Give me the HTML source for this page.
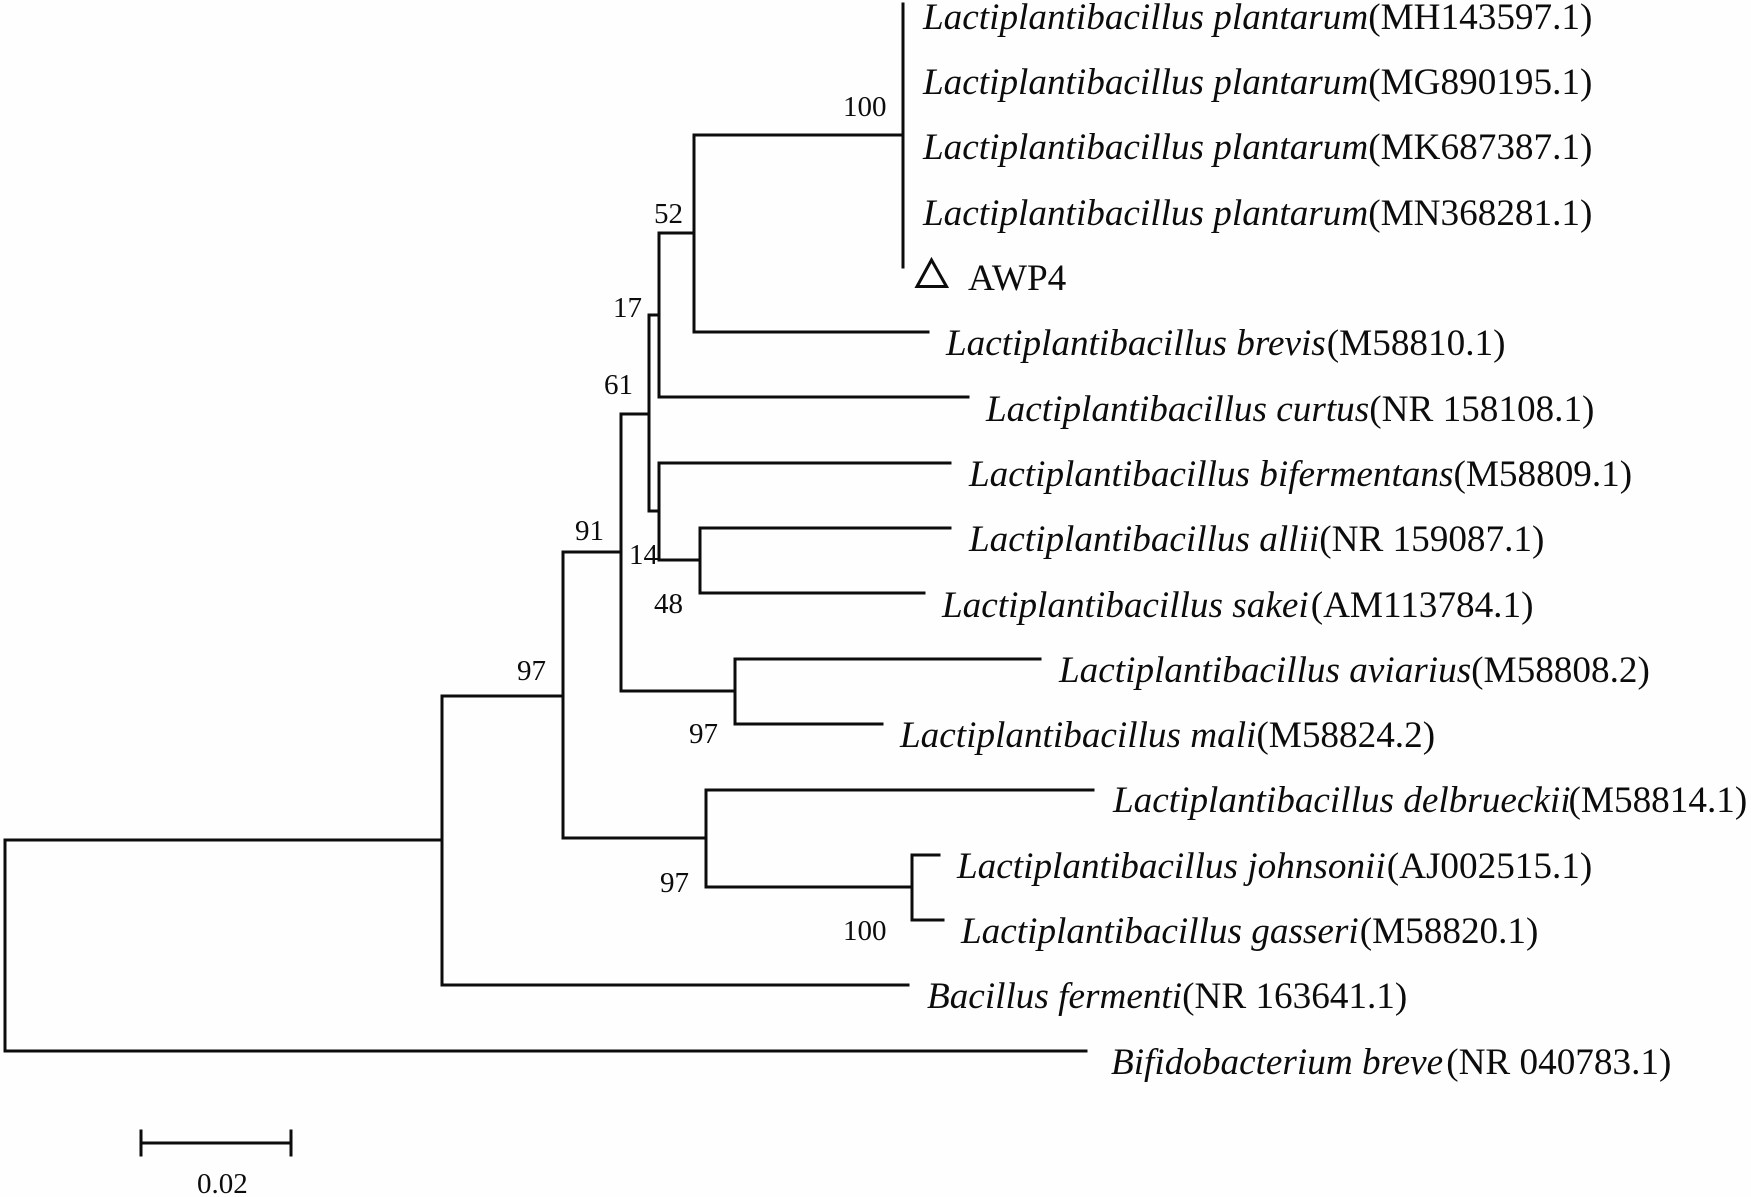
<!DOCTYPE html>
<html lang="en">
<head>
<meta charset="utf-8">
<title>Phylogenetic tree</title>
<style>
html,body{margin:0;padding:0;background:#fefefe;}
svg{display:block;filter:blur(.35px);}
text{font-family:"Liberation Serif",serif;fill:#0c0c0c;}
.l{font-size:37.2px;}
.l tspan.i{font-style:italic;}
.n{font-size:29px;}
</style>
</head>
<body>
<svg width="1751" height="1197" viewBox="0 0 1751 1197" xmlns="http://www.w3.org/2000/svg">
<g fill="none" stroke="#0c0c0c" stroke-width="3" stroke-linecap="square">
<path d="M903 4V267"/>
<path d="M694 135H903"/>
<path d="M694 135V332H928"/>
<path d="M659 233H694"/>
<path d="M659 233V397H968"/>
<path d="M649 315H659"/>
<path d="M649 315V511H659"/>
<path d="M659 463V560"/>
<path d="M659 463H950"/>
<path d="M659 560H700"/>
<path d="M700 528V593"/>
<path d="M700 528H950"/>
<path d="M700 593H924"/>
<path d="M621 414H649"/>
<path d="M621 414V691H735"/>
<path d="M735 659V724"/>
<path d="M735 659H1040"/>
<path d="M735 724H882"/>
<path d="M563 552H621"/>
<path d="M563 552V838H706"/>
<path d="M442 696H563"/>
<path d="M706 790V887"/>
<path d="M706 790H1093"/>
<path d="M706 887H912"/>
<path d="M912 855V920"/>
<path d="M912 855H939"/>
<path d="M912 920H943"/>
<path d="M442 696V985H908"/>
<path d="M5 840H442"/>
<path d="M5 840V1051H1086"/>
<path d="M141 1143H291"/>
<path d="M141 1131V1155"/>
<path d="M291 1131V1155"/>
<path d="M931.5 260L917 286.5H946.5Z" stroke-linejoin="miter"/>
</g>

<text class="l" x="923" y="29"><tspan class="i">Lactiplantibacillus plantarum</tspan>(MH143597.1)</text>
<text class="l" x="923" y="94"><tspan class="i">Lactiplantibacillus plantarum</tspan>(MG890195.1)</text>
<text class="l" x="923" y="159"><tspan class="i">Lactiplantibacillus plantarum</tspan>(MK687387.1)</text>
<text class="l" x="923" y="225"><tspan class="i">Lactiplantibacillus plantarum</tspan>(MN368281.1)</text>
<text class="l" x="968" y="290">AWP4</text>
<text class="l" x="946" y="355"><tspan class="i">Lactiplantibacillus brevis</tspan><tspan dx="1">(M58810.1)</tspan></text>
<text class="l" x="986" y="421"><tspan class="i">Lactiplantibacillus curtus</tspan>(NR 158108.1)</text>
<text class="l" x="969" y="486"><tspan class="i">Lactiplantibacillus bifermentans</tspan>(M58809.1)</text>
<text class="l" x="969" y="551"><tspan class="i">Lactiplantibacillus allii</tspan>(NR 159087.1)</text>
<text class="l" x="942" y="617"><tspan class="i">Lactiplantibacillus sakei</tspan><tspan dx="2">(AM113784.1)</tspan></text>
<text class="l" x="1059" y="682"><tspan class="i">Lactiplantibacillus aviarius</tspan>(M58808.2)</text>
<text class="l" x="900" y="747"><tspan class="i">Lactiplantibacillus mali</tspan>(M58824.2)</text>
<text class="l" x="1113" y="812"><tspan class="i">Lactiplantibacillus delbrueckii</tspan><tspan dx="-2">(M58814.1)</tspan></text>
<text class="l" x="957" y="878"><tspan class="i">Lactiplantibacillus johnsonii</tspan><tspan dx="1">(AJ002515.1)</tspan></text>
<text class="l" x="961" y="943"><tspan class="i">Lactiplantibacillus gasseri</tspan><tspan dx="1">(M58820.1)</tspan></text>
<text class="l" x="927" y="1008"><tspan class="i">Bacillus fermenti</tspan>(NR 163641.1)</text>
<text class="l" x="1111" y="1074"><tspan class="i">Bifidobacterium breve</tspan><tspan dx="3">(NR 040783.1)</tspan></text>

<text class="n" x="843" y="116">100</text>
<text class="n" x="654" y="223">52</text>
<text class="n" x="613" y="317">17</text>
<text class="n" x="604" y="394">61</text>
<text class="n" x="575" y="540">91</text>
<text class="n" x="629" y="564">14</text>
<text class="n" x="654" y="613">48</text>
<text class="n" x="517" y="680">97</text>
<text class="n" x="689" y="743">97</text>
<text class="n" x="660" y="892">97</text>
<text class="n" x="843" y="940">100</text>
<text class="n" x="197" y="1193">0.02</text>
</svg>
</body>
</html>
